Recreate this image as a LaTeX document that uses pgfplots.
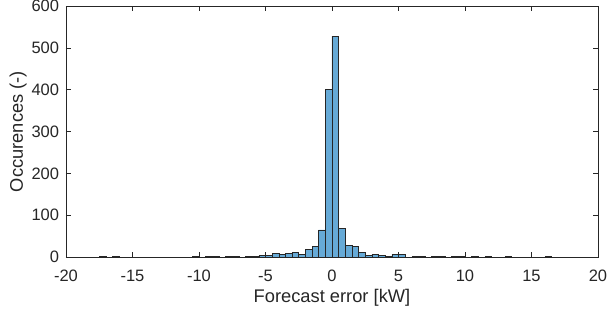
\documentclass[border=0pt]{standalone}
\usepackage{pgfplots}
\pgfplotsset{compat=1.18}
\usepackage{fontspec}
\setmainfont{Liberation Sans}
\definecolor{axgray}{RGB}{38,38,38}
\definecolor{barfill}{RGB}{102,170,215}
\begin{document}
\begin{tikzpicture}
\begin{axis}[
  at={(0pt,0pt)}, anchor=south west,
  scale only axis, width=532pt, height=251pt,
  xmin=-20, xmax=20, ymin=0, ymax=600,
  xtick={-20,-15,...,20}, ytick={0,100,...,600},
  tick pos=both, tick align=inside,
  major tick length=5pt,
  axis line style={axgray, line width=0.6pt},
  every tick/.style={axgray, line width=0.6pt},
  /pgf/number format/assume math mode=true,
  tick label style={font=\fontsize{16.5}{16.5}\selectfont, text=axgray},
  xticklabel style={anchor=base, inner sep=0pt, yshift=-24.7pt},
  yticklabel style={anchor=east, inner sep=0pt, xshift=-6.7pt},
  label style={font=\fontsize{18.3}{18.3}\selectfont, text=axgray},
  xlabel={Forecast error [kW]},
  ylabel={Occurences (-)},
  xlabel style={at={(axis description cs:0.5,0)}, anchor=base, inner sep=0pt, yshift=-45.7pt},
  ylabel style={at={(axis description cs:0,0.5)}, rotate=0, anchor=base, inner sep=0pt, yshift=43pt},
  clip=false,
]
\addplot[ybar, bar width=0.5, bar shift=0pt, fill=barfill, draw=black!85, line width=0.5pt]
coordinates {
(-17.25,1) (-16.25,2) (-10.25,1) (-9.25,2) (-8.75,1) (-7.75,1) (-7.25,2)
(-6.25,1) (-5.75,1) (-5.25,4) (-4.75,3) (-4.25,8) (-3.75,6) (-3.25,9)
(-2.75,11) (-2.25,6) (-1.75,18) (-1.25,26) (-0.75,65) (-0.25,401)
(0.25,528) (0.75,68) (1.25,28) (1.75,26) (2.25,11) (2.75,4) (3.25,7)
(3.75,4) (4.25,2) (4.75,6) (5.25,6) (6.25,1) (6.75,1) (7.75,1) (8.25,1)
(9.25,2) (9.75,1) (10.75,1) (11.75,1) (13.25,1) (16.25,1)
};
\end{axis}
\pgfresetboundingbox
\useasboundingbox (-66pt,-57pt) rectangle (542pt,257pt);
\end{tikzpicture}
\end{document}
